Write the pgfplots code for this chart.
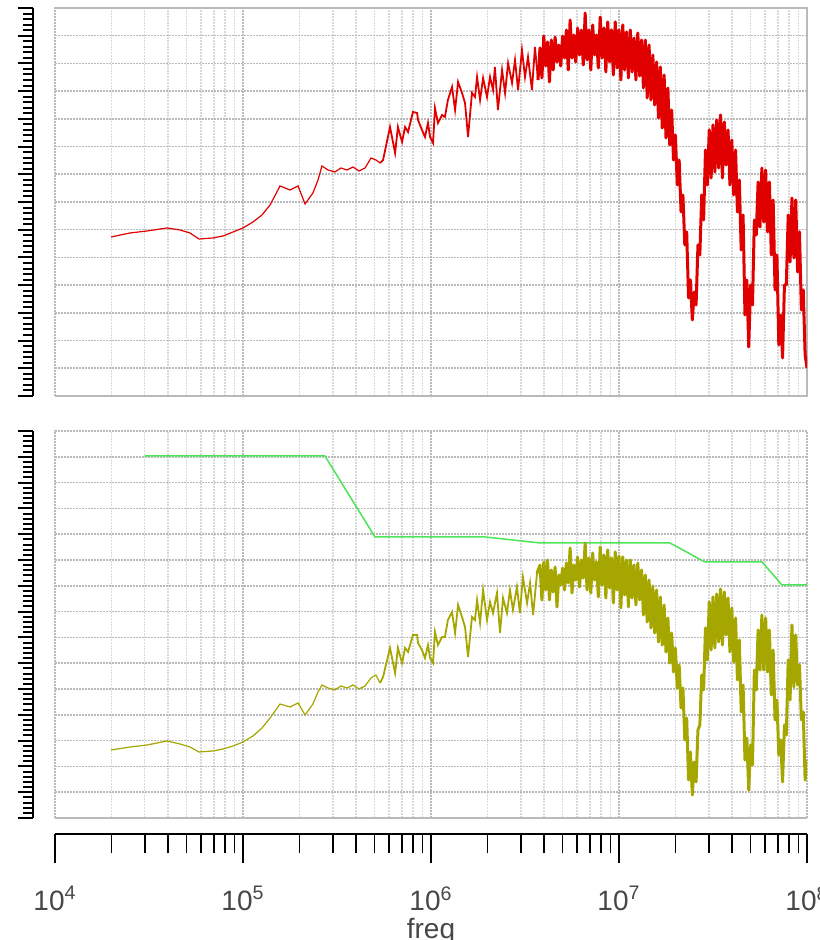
\documentclass[border=0pt]{standalone}
\usepackage{fontspec}
\setmainfont{Liberation Sans}
\usepackage{pgfplots}
\pgfplotsset{compat=1.18}
\definecolor{redc}{rgb}{0.88,0,0}
\definecolor{olivec}{rgb}{0.65,0.65,0}
\definecolor{greenc}{rgb}{0.3,0.9,0.35}
\def\minorx{4.30103,4.47712,4.60206,4.69897,4.77815,4.84510,4.90309,4.95424,5.30103,5.47712,5.60206,5.69897,5.77815,5.84510,5.90309,5.95424,6.30103,6.47712,6.60206,6.69897,6.77815,6.84510,6.90309,6.95424,7.30103,7.47712,7.60206,7.69897,7.77815,7.84510,7.90309,7.95424}
\pgfplotsset{
  panel/.style={scale only axis, width=376pt, xmin=4, xmax=8, y=0.5pt,
    xtick={4,5,6,7,8}, minor xtick/.expand once={\minorx},
    xticklabels={}, yticklabels={},
    major tick length=0pt, minor tick length=0pt,
    grid=both,
    major grid style={black!27, line width=0.8pt, dash pattern=on 0.8pt off 0.7pt},
    minor grid style={black!15, line width=0.8pt, dash pattern=on 0.8pt off 0.7pt},
    axis line style={black!27, line width=0.8pt, dash pattern=on 0.8pt off 0.7pt},
    anchor=south west},
  yruler/.style={scale only axis, width=2pt, xmin=0, xmax=1, y=0.5pt,
    axis x line=none, axis y line*=left, tick align=outside,
    yticklabels={},
    major tick length=7.7pt, minor tick length=5pt,
    major tick style={black, line width=1pt},
    minor tick style={black, line width=1pt},
    axis line style={black, line width=1pt, -},
    anchor=south west},
}
\begin{document}
\begin{tikzpicture}
\useasboundingbox (0,0) rectangle (409.5pt,470pt);
% ---------- bottom panel ----------
\begin{axis}[panel, at={(27.5pt,61pt)}, ymin=0, ymax=387,
  ytick={0,25.8,51.6,77.4,103.2,129,154.8,180.6,206.4,232.2,258,283.8,309.6,335.4,361.2,387}]
\addplot[greenc, line width=0.75pt] coordinates {
(4.477,362) (5.436,362) (5.702,281) (6.290,281) (6.580,275) (7.271,275)
(7.457,256) (7.761,256) (7.867,233) (8.000,233)};
\addplot[olivec, line width=0.6pt] coordinates {
(4.298,68) (4.399,71) (4.489,73) (4.596,77) (4.665,74) (4.718,71) (4.766,66)
(4.840,67) (4.894,69) (4.947,72) (5.000,76) (5.053,82) (5.101,90) (5.144,100)
(5.197,114) (5.250,111) (5.293,115) (5.330,103) (5.372,114) (5.399,126) (5.420,133)
(5.452,130) (5.489,128) (5.521,132) (5.553,130) (5.585,133) (5.617,129) (5.649,132)
(5.681,140) (5.707,143) (5.729,135)};
\addplot[olivec, line width=0.9pt] table {
x y
5.729 135
5.745 141
5.782 170
5.809 145
5.824 170
5.846 155
5.862 170
5.878 166
5.904 183
5.926 183
5.931 175
5.952 168
5.968 160
5.984 173
5.995 160
6.011 155
6.021 186
6.037 173
6.059 181
6.074 181
6.090 198
6.112 206
6.128 185
6.144 213
6.165 201
6.181 191
6.197 161
6.218 201
6.234 198
6.245 218
6.261 195
6.277 228
6.298 198
6.314 216
6.330 205
6.351 225
6.367 185
6.383 220
6.404 205
6.420 228
6.436 208
6.457 231
6.473 205
6.489 241
6.511 215
6.527 235
6.543 203
6.564 245
6.58 253
};
\addplot[olivec, line width=1.5pt, line join=round] table {
x y
6.564 245
6.58 253
6.59 218
6.60 256
6.61 228
6.62 258
6.63 218
6.64 248
6.65 226
6.66 251
6.67 211
6.68 243
6.69 233
6.70 250
6.71 228
6.72 255
6.73 235
6.74 270
6.75 225
6.76 253
6.77 238
6.78 261
6.79 231
6.80 258
6.81 240
6.82 275
6.83 228
6.84 260
6.85 225
6.86 265
6.87 238
6.88 256
6.89 221
6.90 271
6.91 233
6.92 263
6.93 220
6.94 268
6.95 230
6.96 260
6.97 215
6.98 266
6.99 228
7.00 262
7.01 210
7.02 261
7.03 223
7.04 258
7.05 211
7.06 258
7.07 220
7.08 253
7.09 213
7.10 255
7.11 218
7.12 248
7.13 203
7.14 243
7.15 196
7.16 238
7.17 190
7.18 232
7.19 185
7.20 228
7.21 176
7.22 221
7.23 173
7.24 213
7.25 166
7.26 200
7.27 155
7.28 185
7.29 146
7.30 170
7.31 130
7.32 153
7.33 110
7.34 130
7.35 78
7.36 100
7.37 38
7.38 66
7.39 23
7.40 56
7.41 36
7.42 88
7.43 93
7.44 143
7.45 128
7.46 190
7.47 158
7.48 216
7.49 168
7.50 221
7.51 170
7.52 224
7.53 176
7.54 229
7.55 173
7.56 226
7.57 183
7.58 220
7.59 166
7.60 210
7.61 156
7.62 200
7.63 138
7.64 178
7.65 106
7.66 133
7.67 58
7.68 80
7.69 28
7.70 73
7.71 53
7.72 148
7.73 128
7.74 188
7.75 148
7.76 203
7.77 148
7.78 200
7.79 146
7.80 188
7.81 123
7.82 168
7.83 98
7.84 118
7.85 63
7.86 78
7.87 36
7.88 93
7.89 83
7.90 158
7.91 118
7.92 193
7.93 131
7.94 183
7.95 133
7.96 153
7.97 98
7.98 106
7.99 38
8.00 58
};
\end{axis}
\begin{axis}[yruler, at={(16.5pt,61pt)}, ymin=0, ymax=387,
  ytick={0,25.8,51.6,77.4,103.2,129,154.8,180.6,206.4,232.2,258,283.8,309.6,335.4,361.2,387},
  minor ytick={0,5.16,...,387.1}]
\end{axis}
% ---------- top panel ----------
\begin{axis}[panel, at={(27.5pt,272pt)}, ymin=0, ymax=388,
  ytick={0,27.714,55.429,83.143,110.857,138.571,166.286,194,221.714,249.429,277.143,304.857,332.571,360.286,388}]
\addplot[redc, line width=0.6pt] coordinates {
(4.298,159) (4.399,163) (4.489,165) (4.596,168) (4.665,166) (4.718,163) (4.766,157)
(4.840,158) (4.894,160) (4.947,164) (5.000,168) (5.053,174) (5.101,181) (5.144,191)
(5.197,210) (5.250,206) (5.293,210) (5.330,192) (5.372,203) (5.399,216) (5.420,230)
(5.452,226) (5.489,224) (5.521,228) (5.553,226) (5.585,229) (5.617,225) (5.649,228)
(5.681,238) (5.707,236) (5.729,233)};
\addplot[redc, line width=0.9pt] table {
x y
5.729 233
5.745 236
5.782 269
5.809 243
5.824 269
5.846 254
5.862 269
5.878 264
5.904 284
5.926 283
5.931 276
5.952 266
5.968 259
5.984 273
5.995 259
6.011 253
6.021 288
6.037 273
6.059 281
6.074 279
6.090 296
6.112 309
6.128 286
6.144 314
6.165 303
6.181 293
6.197 259
6.218 303
6.234 299
6.245 319
6.261 296
6.277 318
6.298 299
6.314 319
6.330 306
6.340 329
6.356 286
6.378 326
6.394 303
6.410 333
6.431 313
6.447 336
6.463 306
6.484 346
6.500 319
6.516 339
6.537 306
6.553 349
6.569 316
6.58 348
};
\addplot[redc, line width=1.5pt, line join=round] table {
x y
6.569 316
6.58 348
6.59 318
6.60 360
6.61 330
6.62 354
6.63 314
6.64 356
6.65 326
6.66 359
6.67 334
6.68 351
6.69 330
6.70 360
6.71 338
6.72 366
6.73 326
6.74 376
6.75 338
6.76 361
6.77 334
6.78 368
6.79 341
6.80 366
6.81 331
6.82 383
6.83 336
6.84 366
6.85 326
6.86 371
6.87 341
6.88 361
6.89 328
6.90 379
6.91 338
6.92 368
6.93 324
6.94 374
6.95 334
6.96 366
6.97 321
6.98 374
6.99 328
7.00 366
7.01 316
7.02 371
7.03 326
7.04 364
7.05 318
7.06 366
7.07 324
7.08 358
7.09 316
7.10 363
7.11 320
7.12 356
7.13 308
7.14 356
7.15 298
7.16 351
7.17 296
7.18 341
7.19 291
7.20 334
7.21 278
7.22 329
7.23 268
7.24 321
7.25 258
7.26 308
7.27 251
7.28 286
7.29 236
7.30 261
7.31 211
7.32 236
7.33 184
7.34 201
7.35 151
7.36 164
7.37 98
7.38 116
7.39 76
7.40 104
7.41 91
7.42 151
7.43 141
7.44 201
7.45 176
7.46 246
7.47 211
7.48 266
7.49 218
7.50 271
7.51 224
7.52 276
7.53 228
7.54 281
7.55 218
7.56 274
7.57 231
7.58 266
7.59 211
7.60 256
7.61 201
7.62 246
7.63 184
7.64 216
7.65 146
7.66 181
7.67 81
7.68 116
7.69 49
7.70 111
7.71 91
7.72 176
7.73 161
7.74 214
7.75 169
7.76 228
7.77 174
7.78 226
7.79 164
7.80 214
7.81 141
7.82 196
7.83 106
7.84 141
7.85 51
7.86 81
7.87 38
7.88 111
7.89 111
7.90 181
7.91 134
7.92 198
7.93 138
7.94 196
7.95 124
7.96 164
7.97 86
7.98 106
7.99 41
8.00 28
};
\end{axis}
\begin{axis}[yruler, at={(16.5pt,272pt)}, ymin=0, ymax=388,
  ytick={0,27.714,55.429,83.143,110.857,138.571,166.286,194,221.714,249.429,277.143,304.857,332.571,360.286,388},
  minor ytick={0,5.542857,...,388.1}]
\end{axis}
% ---------- x ruler ----------
\begin{axis}[scale only axis, at={(27.5pt,53pt)}, anchor=south west,
  width=376pt, height=2pt, xmin=4, xmax=8, ymin=0, ymax=1,
  axis y line=none, axis x line*=bottom, tick align=outside,
  xtick={4,5,6,7,8}, minor xtick/.expand once={\minorx},
  xticklabels={10\textsuperscript{4},10\textsuperscript{5},10\textsuperscript{6},10\textsuperscript{7},10\textsuperscript{8}},
  major tick length=14.7pt, minor tick length=9.7pt,
  major tick style={black, line width=0.8pt},
  minor tick style={black, line width=0.8pt},
  axis line style={black, line width=0.8pt, -},
  xticklabel style={font=\fontsize{14}{16}\selectfont, text=black!72, yshift=-8pt},
  xlabel={freq},
  xlabel style={font=\fontsize{14}{16}\selectfont, text=black!72,
    at={(axis description cs:0.5,0)}, anchor=base, yshift=-52pt},
  ]
\end{axis}
\end{tikzpicture}
\end{document}
